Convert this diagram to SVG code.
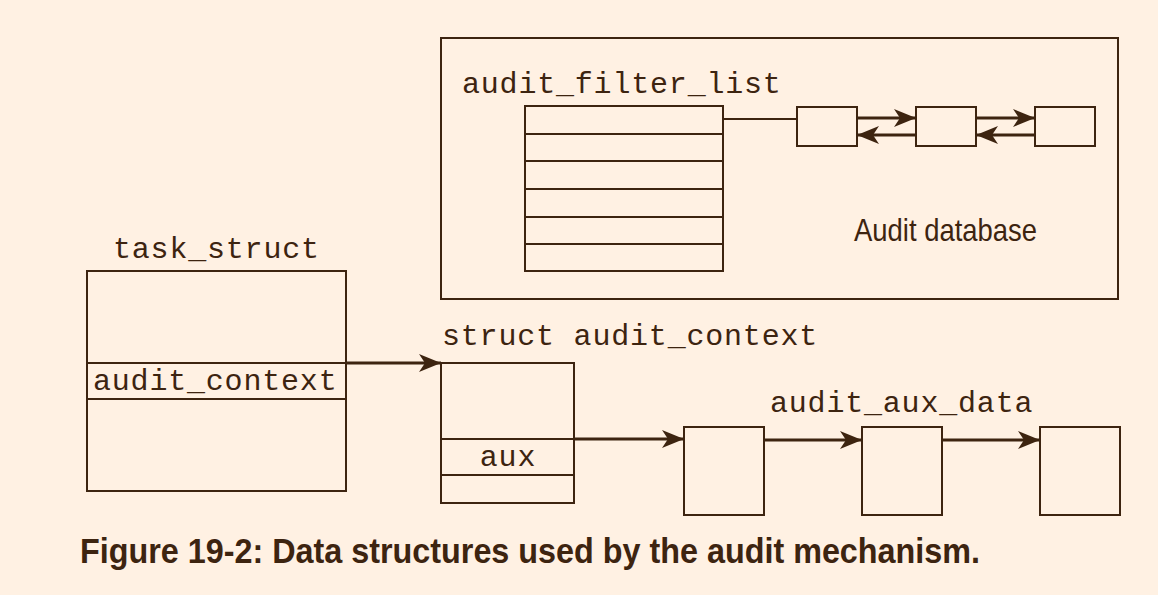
<svg xmlns="http://www.w3.org/2000/svg" width="1158" height="595" viewBox="0 0 1158 595">
<style>
.bx{fill:none;stroke:#3d2410;stroke-width:2}
.ln{fill:none;stroke:#3d2410;stroke-width:2}
.ar{fill:none;stroke:#3d2410;stroke-width:3.2;marker-end:url(#ah)}
.mono{font-family:"Liberation Mono",monospace;font-size:30px;letter-spacing:0.8px;fill:#3d2410}
.sans{font-family:"Liberation Sans",Arial,sans-serif;fill:#3d2410}
</style>
<defs>
<marker id="ah" viewBox="0 0 22 18" refX="22" refY="9" markerWidth="22" markerHeight="18" markerUnits="userSpaceOnUse" orient="auto">
<path d="M0,0 L22,9 L0,18 L6,9 Z" fill="#3d2410"/>
</marker>
</defs>
<rect width="1158" height="595" fill="#fff1e3"/>
<g id="audit-database">
<rect class="bx" x="441" y="38" width="677" height="261"/>
<text class="sans" x="854" y="241" font-size="32" textLength="183" lengthAdjust="spacingAndGlyphs">Audit database</text>
</g>
<g id="audit_filter_list">
<text class="mono" x="462" y="93">audit_filter_list</text>
<rect class="bx" x="525" y="106" width="198" height="165"/>
<path class="ln" d="M525,134H723M525,161H723M525,189H723M525,217H723M525,244H723"/>
</g>
<g id="filter-node-1"><rect class="bx" x="797" y="107" width="60" height="39"/></g>
<g id="filter-node-2"><rect class="bx" x="916" y="107" width="60" height="39"/></g>
<g id="filter-node-3"><rect class="bx" x="1035" y="107" width="60" height="39"/></g>
<g id="task_struct">
<text class="mono" x="113" y="258">task_struct</text>
<rect class="bx" x="87" y="271" width="259" height="220"/>
<path class="ln" d="M87,363H346M87,399H346"/>
<text class="mono" x="93" y="390">audit_context</text>
</g>
<g id="struct-audit_context">
<text class="mono" x="442" y="345">struct audit_context</text>
<rect class="bx" x="441" y="363" width="133" height="140"/>
<path class="ln" d="M441,439H574M441,475H574"/>
<text class="mono" x="508" y="466" text-anchor="middle">aux</text>
</g>
<g id="audit_aux_data">
<text class="mono" x="770" y="412">audit_aux_data</text>
</g>
<g id="aux-node-1"><rect class="bx" x="684" y="427" width="80" height="88"/></g>
<g id="aux-node-2"><rect class="bx" x="862" y="427" width="80" height="88"/></g>
<g id="aux-node-3"><rect class="bx" x="1040" y="427" width="80" height="88"/></g>
<g id="connectors">
<path class="ln" d="M723,119H797"/>
<path class="ar" d="M857,118H916"/>
<path class="ar" d="M916,135H857"/>
<path class="ar" d="M976,118H1035"/>
<path class="ar" d="M1035,135H976"/>
<path class="ar" d="M346,363H441"/>
<path class="ar" d="M574,439H684"/>
<path class="ar" d="M764,440H862"/>
<path class="ar" d="M942,440H1040"/>
</g>
<text class="sans" x="80" y="563" font-size="35" font-weight="bold" textLength="900" lengthAdjust="spacingAndGlyphs">Figure 19-2: Data structures used by the audit mechanism.</text>
</svg>
